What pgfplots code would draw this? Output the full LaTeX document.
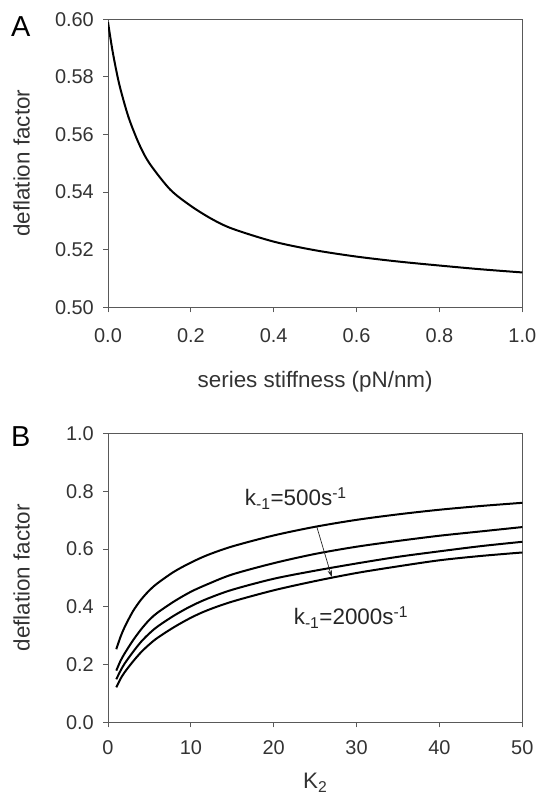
\documentclass[border=0pt]{standalone}
\usepackage{fontspec}
\setmainfont{Liberation Sans}
\usepackage{pgfplots}
\pgfplotsset{compat=1.18}
\usetikzlibrary{arrows.meta}

\pgfplotsset{
  myaxis/.style={
    scale only axis,
    width=414.3bp,
    axis line style={draw=black!65, line width=0.9bp},
    every tick/.style={draw=black!65, line width=0.9bp},
    tick align=outside,
    xtick pos=bottom, ytick pos=left,
    major tick length=5bp,
    /pgf/number format/assume math mode=true,
    tick label style={font=\fontsize{20}{24}\selectfont, text=black!80, inner sep=0pt},
    yticklabel style={anchor=east, xshift=-9bp},
    label style={font=\fontsize{22.5}{27}\selectfont, text=black!80, inner sep=0pt},
    ylabel style={at={([xshift=-86.3bp]axis description cs:0,0.5)}, anchor=center, rotate=0},
  }
}

\begin{document}
\begin{tikzpicture}
\useasboundingbox (0,0) rectangle (538bp,796bp);

% Panel A
\begin{axis}[myaxis,
  at={(108bp,488.7bp)}, anchor=south west, height=288bp,
  xmin=0, xmax=1, ymin=0.5, ymax=0.6,
  xtick={0,0.2,0.4,0.6,0.8,1.0},
  ytick={0.50,0.52,0.54,0.56,0.58,0.60},
  xticklabel style={anchor=north, yshift=-16bp, /pgf/number format/.cd, fixed, fixed zerofill, precision=1},
  yticklabel style={/pgf/number format/.cd, fixed, fixed zerofill, precision=2},
  xlabel={series stiffness (pN/nm)},
  xlabel style={at={([yshift=-80bp]axis description cs:0.5,0)}, anchor=base},
  ylabel={deflation factor},
]
\addplot[black, line width=2bp, smooth] coordinates {
(0,0.599) (0.01,0.5898) (0.02,0.5822) (0.03,0.5758) (0.05,0.5658) (0.075,0.5567)
(0.1,0.5500) (0.15,0.5409) (0.2,0.5352) (0.25,0.5307) (0.3,0.5273) (0.4,0.5228)
(0.5,0.5198) (0.6,0.5176) (0.7,0.5159) (0.8,0.5145) (0.9,0.5132) (1.0,0.5121)
};
\end{axis}

% Panel B
\begin{axis}[myaxis,
  at={(108bp,73.7bp)}, anchor=south west, height=288.8bp,
  xmin=0, xmax=50, ymin=0, ymax=1,
  xtick={0,10,20,30,40,50},
  ytick={0,0.2,0.4,0.6,0.8,1.0},
  xticklabel style={anchor=north, yshift=-13bp},
  yticklabel style={/pgf/number format/.cd, fixed, fixed zerofill, precision=1},
  xlabel={K\textsubscript{2}},
  xlabel style={at={([yshift=-66.5bp]axis description cs:0.5,0)}, anchor=base},
  ylabel={deflation factor},
]
\addplot[black, line width=2bp, smooth] coordinates {
(1,0.253) (1.5,0.295) (2,0.329) (3,0.384) (4,0.425) (5,0.457) (6,0.482)
(8,0.522) (10,0.553) (12,0.579) (15,0.609) (20,0.647) (25,0.677) (30,0.701)
(35,0.720) (40,0.736) (45,0.749) (50,0.760)
};
\addplot[black, line width=2bp, smooth] coordinates {
(1,0.179) (1.5,0.212) (2,0.238) (3,0.283) (4,0.322) (5,0.355) (6,0.380)
(8,0.419) (10,0.452) (12,0.478) (15,0.512) (20,0.551) (25,0.583) (30,0.608)
(35,0.628) (40,0.646) (45,0.661) (50,0.676)
};
\addplot[black, line width=2bp, smooth] coordinates {
(1,0.149) (1.5,0.178) (2,0.203) (3,0.243) (4,0.279) (5,0.308) (6,0.332)
(8,0.370) (10,0.402) (12,0.428) (15,0.459) (20,0.497) (25,0.525) (30,0.550)
(35,0.573) (40,0.592) (45,0.610) (50,0.625)
};
\addplot[black, line width=2bp, smooth] coordinates {
(1,0.121) (1.5,0.150) (2,0.173) (3,0.210) (4,0.243) (5,0.270) (6,0.293)
(8,0.330) (10,0.362) (12,0.388) (15,0.418) (20,0.457) (25,0.489) (30,0.517)
(35,0.540) (40,0.561) (45,0.576) (50,0.588)
};
\draw[black!85, line width=0.7bp, -{Stealth[length=7bp,width=4.5bp]}]
  (axis cs:25.2,0.677) -- (axis cs:27.0,0.503);
\node[anchor=base west, inner sep=0pt, font=\fontsize{22.5}{27}\selectfont, text=black!85]
  at (axis cs:16.5,0.749) {k\textsubscript{-1}=500s\textsuperscript{-1}};
\node[anchor=base west, inner sep=0pt, font=\fontsize{22.5}{27}\selectfont, text=black!85]
  at (axis cs:22.4,0.337) {k\textsubscript{-1}=2000s\textsuperscript{-1}};
\end{axis}

\node[anchor=base west, inner sep=0pt, font=\fontsize{29}{34}\selectfont] at (11bp,759bp) {A};
\node[anchor=base west, inner sep=0pt, font=\fontsize{29}{34}\selectfont] at (11bp,349.3bp) {B};
\end{tikzpicture}
\end{document}
